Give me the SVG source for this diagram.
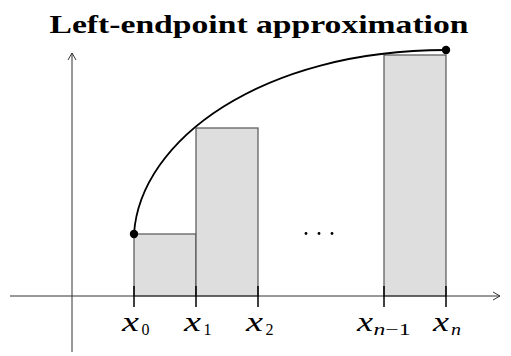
<svg xmlns="http://www.w3.org/2000/svg" width="511" height="356" viewBox="0 0 511 356">
<style>
.axis{stroke:#333;stroke-width:1;fill:none}
.bar{fill:#dedede;stroke:#555;stroke-width:1.2}
.tick{stroke:#000;stroke-width:1.5}
.lbl{font-family:"Liberation Serif",serif;font-style:italic;font-size:27px;fill:#000}
.sub{font-family:"Liberation Serif",serif;font-size:16px;fill:#000}
.title{font-family:"Liberation Serif",serif;font-weight:bold;font-size:25px;fill:#000}
</style>
<defs>
<marker id="arr" viewBox="0 0 10 10" refX="9" refY="5" markerWidth="10" markerHeight="10" markerUnits="userSpaceOnUse" orient="auto">
<path d="M2,1 L9,5 L2,9" fill="none" stroke="#333" stroke-width="1"/>
</marker>
</defs>
<text class="title" x="259" y="33" text-anchor="middle" textLength="419" lengthAdjust="spacingAndGlyphs">Left-endpoint approximation</text>
<g id="bars">
<rect id="bar1" class="bar" x="134" y="234" width="62" height="62"/>
<rect id="bar2" class="bar" x="196" y="128" width="62" height="168"/>
<rect id="barn" class="bar" x="384" y="55" width="62" height="241"/>
</g>
<g id="connectors">
<line class="axis" x1="10" y1="296" x2="500" y2="296" marker-end="url(#arr)"/>
<line class="axis" x1="72" y1="352" x2="72" y2="53" marker-end="url(#arr)"/>
<line class="tick" x1="134" y1="286" x2="134" y2="307"/>
<line class="tick" x1="196" y1="286" x2="196" y2="307"/>
<line class="tick" x1="258" y1="286" x2="258" y2="307"/>
<line class="tick" x1="384" y1="286" x2="384" y2="307"/>
<line class="tick" x1="446" y1="286" x2="446" y2="307"/>
<path d="M134,234 C140,140 262,50 446,50" fill="none" stroke="#000" stroke-width="1.8"/>
</g>
<g id="points">
<circle cx="134" cy="234" r="4.2" fill="#000"/>
<circle cx="446" cy="50" r="4.2" fill="#000"/>
</g>
<g id="dots" fill="#000">
<circle cx="306" cy="233.5" r="1.4"/>
<circle cx="319" cy="233.5" r="1.4"/>
<circle cx="332" cy="233.5" r="1.4"/>
</g>
<g id="labels">
<text class="lbl" x="122" y="331" textLength="17" lengthAdjust="spacingAndGlyphs">x</text><text class="sub" x="141.5" y="335">0</text>
<text class="lbl" x="184" y="331" textLength="17" lengthAdjust="spacingAndGlyphs">x</text><text class="sub" x="203.5" y="335">1</text>
<text class="lbl" x="246" y="331" textLength="17" lengthAdjust="spacingAndGlyphs">x</text><text class="sub" x="265.5" y="335">2</text>
<text class="lbl" x="357" y="331" textLength="16" lengthAdjust="spacingAndGlyphs">x</text><text class="sub" x="373.5" y="335" textLength="37" lengthAdjust="spacingAndGlyphs"><tspan font-style="italic">n</tspan>−1</text>
<text class="lbl" x="433" y="331" textLength="16" lengthAdjust="spacingAndGlyphs">x</text><text class="sub" x="451" y="335" font-style="italic" textLength="10" lengthAdjust="spacingAndGlyphs">n</text>
</g>
</svg>
